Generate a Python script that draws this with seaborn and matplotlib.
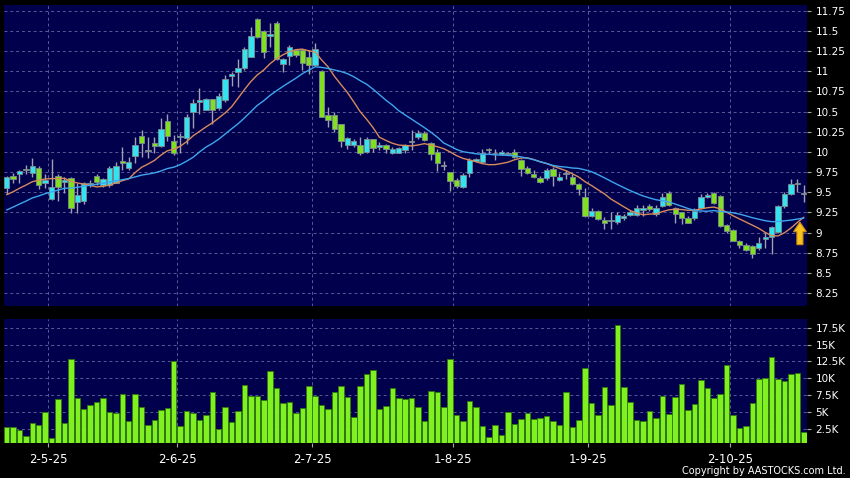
import numpy as np
import pandas as pd
import matplotlib
matplotlib.use("Agg")
import matplotlib.pyplot as plt
import seaborn as sns
from matplotlib.patches import FancyArrow

# ---------------- data ----------------
opens = [9.55, 9.70, 9.73, 9.79, 9.74, 9.80, 9.61, 9.42, 9.70, 9.63,
         9.68, 9.38, 9.39, 9.60, 9.70, 9.59, 9.59, 9.62, 9.89, 9.80,
         9.95, 10.20, 10.01, 10.11, 10.07, 10.38, 10.14, 10.18, 10.17, 10.50,
         10.62, 10.52, 10.66, 10.54, 10.64, 10.94, 10.99, 11.04, 11.18, 11.65,
         11.50, 11.43, 11.60, 11.09, 11.19, 11.26, 11.26, 11.18, 11.08, 11.00,
         10.46, 10.46, 10.34, 10.08, 10.08, 10.09, 10.00, 10.16, 10.06, 10.08,
         9.98, 9.99, 10.02, 10.12, 10.18, 10.24, 10.11, 10.00, 9.83, 9.75,
         9.65, 9.57, 9.74, 9.89, 9.88, 10.04, 9.98, 9.97, 9.97, 10.00,
         9.90, 9.80, 9.72, 9.67, 9.67, 9.79, 9.65, 9.72, 9.69, 9.60,
         9.44, 9.21, 9.27, 9.16, 9.14, 9.13, 9.18, 9.22, 9.22, 9.28,
         9.33, 9.23, 9.33, 9.49, 9.30, 9.25, 9.18, 9.18, 9.31, 9.44,
         9.49, 9.45, 9.09, 9.03, 8.90, 8.85, 8.83, 8.81, 8.92, 8.94,
         9.01, 9.33, 9.48, 9.62, 9.48]
highs = [9.70, 9.74, 9.78, 9.84, 9.93, 9.82, 9.72, 9.91, 9.72, 9.69,
         9.69, 9.61, 9.63, 9.65, 9.72, 9.67, 9.82, 9.88, 10.06, 9.94,
         10.19, 10.27, 10.18, 10.18, 10.42, 10.47, 10.21, 10.23, 10.47, 10.66,
         10.79, 10.67, 10.66, 10.73, 10.95, 10.99, 11.15, 11.30, 11.55, 11.66,
         11.51, 11.60, 11.62, 11.16, 11.33, 11.28, 11.28, 11.26, 11.35, 11.01,
         10.56, 10.50, 10.35, 10.18, 10.16, 10.18, 10.18, 10.16, 10.12, 10.10,
         10.06, 10.06, 10.10, 10.27, 10.27, 10.26, 10.12, 10.03, 9.89, 9.75,
         9.67, 9.74, 9.92, 9.93, 10.04, 10.05, 10.04, 10.02, 10.00, 10.03,
         9.91, 9.83, 9.78, 9.70, 9.80, 9.81, 9.74, 9.78, 9.73, 9.62,
         9.55, 9.30, 9.28, 9.19, 9.26, 9.26, 9.23, 9.28, 9.34, 9.34,
         9.35, 9.34, 9.49, 9.51, 9.32, 9.26, 9.20, 9.30, 9.48, 9.49,
         9.50, 9.46, 9.11, 9.05, 8.91, 8.87, 8.85, 8.94, 9.01, 9.08,
         9.34, 9.50, 9.66, 9.66, 9.59]
lows = [9.48, 9.61, 9.61, 9.72, 9.69, 9.54, 9.55, 9.40, 9.39, 9.49,
        9.24, 9.24, 9.35, 9.57, 9.59, 9.57, 9.57, 9.61, 9.78, 9.78,
        9.86, 9.94, 9.93, 9.98, 10.06, 10.14, 9.96, 9.98, 10.10, 10.29,
        10.47, 10.52, 10.35, 10.52, 10.62, 10.82, 10.81, 11.01, 11.17, 11.41,
        11.16, 11.30, 11.14, 10.99, 11.08, 11.18, 11.01, 10.97, 11.06, 10.43,
        10.31, 10.25, 10.06, 10.04, 10.06, 9.96, 9.98, 10.00, 10.02, 9.98,
        9.97, 9.98, 9.98, 10.02, 10.16, 10.13, 9.90, 9.76, 9.77, 9.51,
        9.55, 9.55, 9.69, 9.87, 9.86, 9.97, 9.90, 9.96, 9.96, 9.92,
        9.70, 9.73, 9.67, 9.62, 9.65, 9.58, 9.64, 9.66, 9.59, 9.47,
        9.19, 9.19, 9.16, 9.05, 9.05, 9.11, 9.16, 9.20, 9.20, 9.20,
        9.27, 9.20, 9.32, 9.33, 9.12, 9.11, 9.12, 9.16, 9.30, 9.43,
        9.36, 9.07, 9.00, 8.89, 8.81, 8.77, 8.68, 8.79, 8.81, 8.73,
        8.99, 9.31, 9.47, 9.50, 9.38]
closes = [9.69, 9.66, 9.76, 9.77, 9.82, 9.59, 9.65, 9.57, 9.57, 9.65,
          9.31, 9.46, 9.61, 9.62, 9.63, 9.66, 9.80, 9.83, 9.86, 9.88,
          10.09, 10.11, 10.01, 10.07, 10.28, 10.20, 9.99, 10.20, 10.43, 10.60,
          10.64, 10.66, 10.52, 10.69, 10.90, 10.96, 11.04, 11.28, 11.43, 11.42,
          11.24, 11.46, 11.15, 11.15, 11.30, 11.20, 11.10, 11.08, 11.28, 10.43,
          10.39, 10.28, 10.14, 10.17, 10.13, 9.98, 10.16, 10.05, 10.08, 10.04,
          10.04, 10.05, 10.09, 10.12, 10.24, 10.15, 9.97, 9.86, 9.83, 9.64,
          9.58, 9.71, 9.90, 9.91, 9.99, 10.02, 9.98, 10.00, 9.99, 9.94,
          9.79, 9.74, 9.69, 9.63, 9.78, 9.70, 9.69, 9.72, 9.60, 9.54,
          9.20, 9.27, 9.17, 9.12, 9.15, 9.22, 9.21, 9.25, 9.30, 9.31,
          9.29, 9.30, 9.44, 9.34, 9.23, 9.18, 9.12, 9.27, 9.44, 9.47,
          9.37, 9.08, 9.02, 8.90, 8.84, 8.79, 8.74, 8.87, 8.94, 9.07,
          9.33, 9.48, 9.60, 9.60, 9.48]
# closes before the first visible day (estimated so the moving averages start as drawn)
prior_closes = [8.95, 9.00, 9.05, 9.02, 9.10, 9.08, 9.12, 9.15, 9.18, 9.25,
                9.30, 9.32, 9.38, 9.40, 9.40, 9.50, 9.52, 9.58, 9.60]
volumes_k = [2.8, 2.7, 2.3, 1.5, 3.3, 3.0, 5.0, 1.2, 6.9, 3.4,
             12.9, 7.0, 5.5, 6.1, 6.5, 7.0, 5.0, 4.8, 7.6, 3.6,
             7.6, 5.8, 3.0, 3.8, 5.3, 5.6, 12.6, 2.9, 5.2, 4.8,
             3.8, 4.5, 7.9, 2.5, 5.8, 3.5, 5.1, 9.0, 7.4, 7.4,
             6.7, 11.0, 8.6, 6.3, 6.5, 4.9, 5.6, 8.8, 7.3, 6.0,
             5.5, 7.9, 8.8, 7.2, 4.2, 8.8, 10.7, 11.2, 5.5, 5.9,
             8.5, 7.1, 6.9, 7.0, 5.7, 3.7, 8.1, 7.9, 5.7, 12.8,
             4.6, 3.7, 6.6, 5.7, 2.9, 1.3, 3.1, 1.6, 5.0, 3.2,
             3.9, 4.9, 4.0, 4.1, 4.4, 3.7, 3.0, 7.9, 2.8, 3.8,
             11.5, 6.3, 4.6, 8.7, 6.1, 17.9, 8.7, 6.5, 3.8, 3.6,
             5.1, 4.1, 7.4, 4.7, 7.2, 9.2, 5.3, 6.2, 9.8, 8.5,
             7.0, 7.7, 11.9, 4.6, 2.6, 2.9, 6.4, 9.9, 10.0, 13.2,
             9.9, 9.6, 10.6, 10.8, 2.1]

date_tick_pos = [6.5, 26.5, 47.5, 69.5, 90.5, 112.5]
date_labels = ["2-5-25", "2-6-25", "2-7-25", "1-8-25", "1-9-25", "2-10-25"]
price_ticks = [8.25, 8.5, 8.75, 9.0, 9.25, 9.5, 9.75, 10.0, 10.25, 10.5,
               10.75, 11.0, 11.25, 11.5, 11.75]
price_tick_labels = ["8.25", "8.5", "8.75", "9", "9.25", "9.5", "9.75", "10",
                     "10.25", "10.5", "10.75", "11", "11.25", "11.5", "11.75"]
vol_ticks = [2.5, 5, 7.5, 10, 12.5, 15, 17.5]
vol_tick_labels = ["2.5K", "5K", "7.5K", "10K", "12.5K", "15K", "17.5K"]

# ---------------- styling ----------------
sns.set_theme(style="dark")
plt.rcParams['font.family'] = ['DejaVu Sans']

BG = "#000000"
PANEL = "#00004c"
GRID = "#5a5a96"
UP = "#33e3f0"
DOWN = "#80e01f"
DOJI = "#b4b4b4"
WICK = "#a0a0b0"
VOL = "#80f020"

n = len(closes)
idx = np.arange(n)
o = np.array(opens); h = np.array(highs); l = np.array(lows); c = np.array(closes)

all_close = pd.Series(prior_closes + closes)
ma10 = all_close.rolling(10).mean().iloc[len(prior_closes):].to_numpy()
ma20 = all_close.rolling(20).mean().iloc[len(prior_closes):].to_numpy()

df = pd.DataFrame({"i": idx, "ma10": ma10, "ma20": ma20, "vol": volumes_k})

fig = plt.figure(figsize=(8.5, 4.78), dpi=100, facecolor=BG)
ax = fig.add_axes([4/850, 1-306/478, 803/850, 301/478])
axv = fig.add_axes([4/850, 1-443/478, 803/850, 124/478])

for a in (ax, axv):
    a.set_facecolor(PANEL)
    for s in a.spines.values():
        s.set_visible(False)

# candles
colors = [UP if cc > oo else (DOWN if cc < oo else DOJI) for oo, cc in zip(o, c)]
ax.vlines(idx, l, h, color=WICK, linewidth=1.0, zorder=2)
body_bottom = np.minimum(o, c)
body_h = np.maximum(np.abs(c - o), 0.012)
ax.bar(idx, body_h, bottom=body_bottom, width=0.84, color=colors,
       edgecolor="#7c8c90", linewidth=0.6, zorder=3)

# moving averages
sns.lineplot(data=df, x="i", y="ma10", ax=ax, color="#d88a5c", linewidth=1.0, zorder=4)
sns.lineplot(data=df, x="i", y="ma20", ax=ax, color="#3ea6ee", linewidth=1.0, zorder=4)

# arrow marker
arrow_x = n - 1.6
arrow_base, arrow_tip = 8.85, 9.13
ax.add_patch(FancyArrow(arrow_x, arrow_base, 0, arrow_tip - arrow_base, width=0.95,
                        head_width=2.0, head_length=0.12, length_includes_head=True,
                        facecolor="#f8c41c", edgecolor="#c98a10", linewidth=0.8, zorder=6))

ax.set_xlim(-0.4, 124.5)
ax.set_ylim(8.09, 11.82)
ax.set_yticks(price_ticks)
ax.set_yticklabels(price_tick_labels)
ax.set_xticks(date_tick_pos)
ax.set_xticklabels([])
ax.yaxis.tick_right()
ax.set_xlabel(""); ax.set_ylabel("")
ax.tick_params(axis="y", colors="#a8a8a8", labelcolor="white", length=3, width=0.8,
               pad=3, labelsize=7.5, direction="out", right=True, left=False)
ax.tick_params(axis="x", length=0)
ax.grid(True, color=GRID, linestyle=(0, (3, 3)), linewidth=0.7)
ax.set_axisbelow(True)

# volume
sns.barplot(data=df, x="i", y="vol", native_scale=True, ax=axv, color=VOL,
            saturation=1, width=0.86, edgecolor="#2e7a0c", linewidth=0.6, zorder=3)
axv.set_xlim(-0.4, 124.5)
axv.set_ylim(0.4, 18.78)
axv.set_yticks(vol_ticks)
axv.set_yticklabels(vol_tick_labels)
axv.yaxis.tick_right()
axv.set_xticks(date_tick_pos)
axv.set_xticklabels(date_labels)
axv.set_xlabel(""); axv.set_ylabel("")
axv.tick_params(axis="y", colors="#a8a8a8", labelcolor="white", length=3, width=0.8,
                pad=3, labelsize=7.5, direction="out", right=True, left=False)
axv.tick_params(axis="x", colors="#a8a8a8", labelcolor="white", length=3, width=0.8,
                pad=4, labelsize=8.5, direction="out", bottom=True)
axv.grid(True, color=GRID, linestyle=(0, (3, 3)), linewidth=0.7)
axv.set_axisbelow(True)

fig.text(846/850, 1-471/478, "Copyright by AASTOCKS.com Ltd.", ha="right", va="center",
         color="white", fontsize=7)

fig.savefig("out.png", dpi=100, facecolor=BG)
